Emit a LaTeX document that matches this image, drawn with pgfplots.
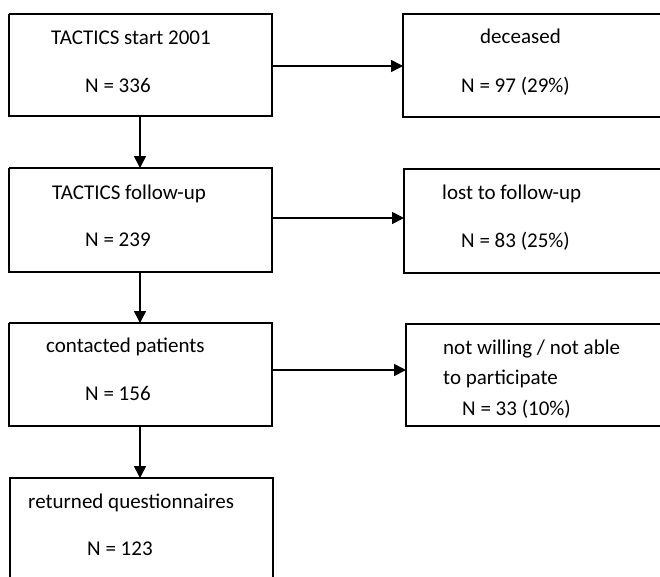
\documentclass[border=0pt]{standalone}
\usepackage{fontspec}
\setmainfont{Carlito}
\usepackage{pgfplots}
\pgfplotsset{compat=1.18}
\usetikzlibrary{arrows.meta}
\tikzset{txt/.style={anchor=base west, inner sep=0pt, font=\fontsize{21bp}{25bp}\selectfont}}
\pgfplotsset{fl/.style={black, solid, line width=1.7bp, mark=none, line join=miter},
  ar/.style={fl, -{Triangle[length=12bp,width=12bp]}}}
\begin{document}
\begin{tikzpicture}
\begin{axis}[
  width=660bp, height=576bp, scale only axis,
  xmin=0, xmax=660, ymin=0, ymax=576, y dir=reverse,
  hide axis, clip=true,
]
\addplot[draw=none, mark=none] coordinates {(0,0) (660,576)};
% boxes
\addplot[fl] coordinates {(9,14) (272,14) (272,116) (9,116) (9,14)};
\addplot[fl] coordinates {(680,14) (403,14) (403,117) (680,117)};
\addplot[fl] coordinates {(9,168) (272,168) (272,272) (9,272) (9,168)};
\addplot[fl] coordinates {(680,169) (404,169) (404,273) (680,273)};
\addplot[fl] coordinates {(9,323) (272,323) (272,426) (9,426) (9,323)};
\addplot[fl] coordinates {(680,324) (406,324) (406,426) (680,426)};
\addplot[fl] coordinates {(10,590) (10,478) (273,478) (273,590)};
% arrows
\addplot[ar] coordinates {(272,66) (403,66)};
\addplot[ar] coordinates {(272,218) (404,218)};
\addplot[ar] coordinates {(272,370) (406,370)};
\addplot[ar] coordinates {(140,116) (140,168)};
\addplot[ar] coordinates {(140,272) (140,323)};
\addplot[ar] coordinates {(140,426) (140,478)};
% texts
\node[txt] at (axis cs:51,45) {TACTICS start 2001};
\node[txt] at (axis cs:85,92) {N = 336};
\node[txt] at (axis cs:480,44) {deceased};
\node[txt] at (axis cs:461,92) {N = 97 (29\%)};
\node[txt] at (axis cs:52,199) {TACTICS follow-up};
\node[txt] at (axis cs:85,246) {N = 239};
\node[txt] at (axis cs:442,199) {lost to follow-up};
\node[txt] at (axis cs:461,247) {N = 83 (25\%)};
\node[txt] at (axis cs:46,352) {contacted patients};
\node[txt] at (axis cs:85,400) {N = 156};
\node[txt] at (axis cs:443,354) {not willing / not able};
\node[txt] at (axis cs:443,384) {to participate};
\node[txt] at (axis cs:462,415) {N = 33 (10\%)};
\node[txt] at (axis cs:28,508) {returned questionnaires};
\node[txt] at (axis cs:87,555) {N = 123};
\end{axis}
\end{tikzpicture}
\end{document}
